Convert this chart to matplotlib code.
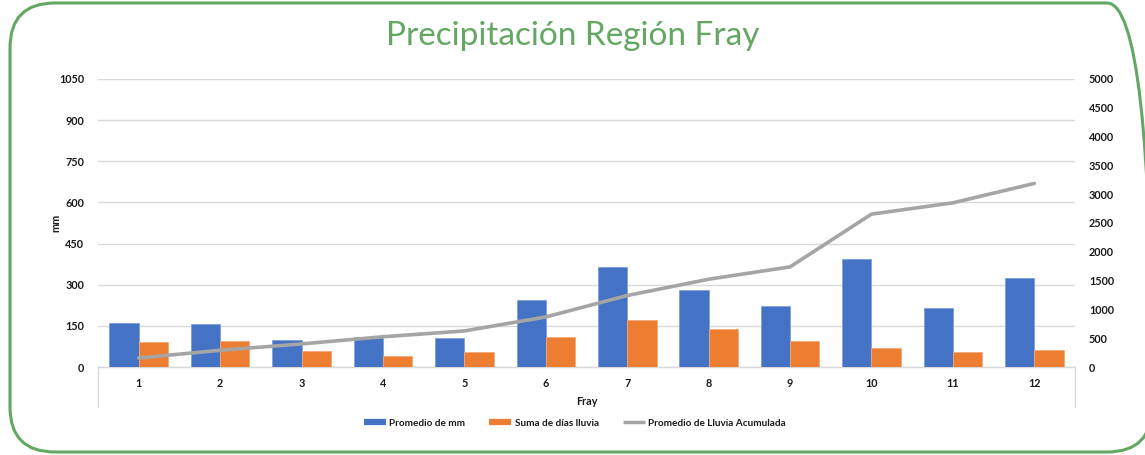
import numpy as np
import matplotlib.pyplot as plt
from matplotlib.lines import Line2D
from matplotlib.patches import FancyBboxPatch

# datos mensuales region Fray
meses = ['1', '2', '3', '4', '5', '6', '7', '8', '9', '10', '11', '12']
promedio_mm = [159, 156, 98, 109, 104, 245, 366, 281, 224, 394, 216, 323]
dias_lluvia = [92, 96, 60, 39, 56, 108, 170, 139, 96, 68, 54, 62]
lluvia_acumulada = [156, 290, 401, 525, 626, 869, 1241, 1524, 1738, 2654, 2850, 3187]

azul = '#4472C4'
naranja = '#ED7D31'
gris = '#A5A5A5'
verde = '#63A763'

plt.rcParams['font.family'] = ['Lato', 'DejaVu Sans']

fig = plt.figure(figsize=(11.45, 4.55), dpi=100)
ax = fig.add_axes([0.0856, 0.1934, 0.8533, 0.633])
ax2 = ax.twinx()

x = np.arange(len(meses))
w = 0.36
ax.bar(x - w / 2, promedio_mm, w, color=azul, edgecolor='#7FA0DA', linewidth=0.6, zorder=3)
ax.bar(x + w / 2, dias_lluvia, w, color=naranja, edgecolor='#F4A97A', linewidth=0.6, zorder=3)
ax2.plot(x, lluvia_acumulada, color=gris, linewidth=2.6, solid_capstyle='round', zorder=4)

ax.set_xlim(-0.5, len(meses) - 0.5)
ax.set_ylim(0, 1050)
ax.set_yticks(np.arange(0, 1051, 150))
ax2.set_ylim(0, 5000)
ax2.set_yticks(np.arange(0, 5001, 500))
ax.set_xticks(x)
ax.set_xticklabels(meses)

ax.grid(axis='y', color='#D9D9D9', linewidth=1.0, zorder=0)
ax.set_axisbelow(True)
for a in (ax, ax2):
    for s in a.spines.values():
        s.set_visible(False)
ax.spines['bottom'].set_visible(True)
ax.spines['bottom'].set_color('#D9D9D9')
ax.spines['bottom'].set_linewidth(1.0)

ax.tick_params(axis='both', length=0, labelsize=7.8, labelcolor='#1a1a1a')
ax.tick_params(axis='x', pad=8)
ax.tick_params(axis='y', pad=10)
ax2.tick_params(axis='y', length=0, labelsize=7.8, labelcolor='#1a1a1a', pad=10)
for lbl in ax.get_xticklabels() + ax.get_yticklabels() + ax2.get_yticklabels():
    lbl.set_fontweight('bold')

# caja del eje de categorias
for xv in (0, 1):
    ax.plot([xv, xv], [0, -0.14], transform=ax.transAxes, color='#D9D9D9',
            linewidth=1.0, clip_on=False)

ax.set_xlabel('Fray', fontsize=7.8, fontweight='bold', color='#1a1a1a', labelpad=5)
ax.set_ylabel('mm', fontsize=7.8, fontweight='bold', color='#1a1a1a', labelpad=-2)

fig.text(0.5, 0.921, 'Precipitación Región Fray', ha='center', va='center',
         fontsize=24, color=verde)

handles = [
    Line2D([], [], color=azul, linewidth=4.5, solid_capstyle='butt'),
    Line2D([], [], color=naranja, linewidth=4.5, solid_capstyle='butt'),
    Line2D([], [], color=gris, linewidth=2.5, solid_capstyle='butt'),
]
leg = fig.legend(handles, ['Promedio de mm', 'Suma de días lluvia', 'Promedio de Lluvia Acumulada'],
                 loc='center', bbox_to_anchor=(0.502, 0.07), ncol=3, frameon=False,
                 fontsize=7.2, handlelength=2.2, handletextpad=0.35, columnspacing=2.4)
for t in leg.get_texts():
    t.set_fontweight('bold')
    t.set_color('#1a1a1a')

# borde redondeado
borde = FancyBboxPatch((10, 3), 1142, 449, boxstyle='round,pad=0,rounding_size=45',
                       transform=None, facecolor='none', edgecolor=verde,
                       linewidth=2.2, clip_on=False)
fig.patches.append(borde)

fig.savefig('out.png', dpi=100)
